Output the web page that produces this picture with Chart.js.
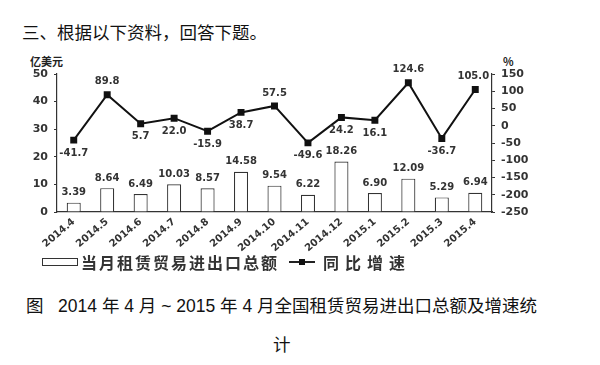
<!DOCTYPE html>
<html>
<head>
<meta charset="utf-8">
<script src="https://cdn.jsdelivr.net/npm/chart.js@4.4.1/dist/chart.umd.min.js"></script>
<style>
  body { margin: 0; background: #fff; width: 600px; height: 365px; position: relative; overflow: hidden; font-family: "Noto Sans CJK SC", sans-serif; }
  .heading { position: absolute; left: 22px; top: 19px; font-size: 17.5px; color: #111; }
  .unit { position: absolute; font: bold 11px "Noto Sans CJK SC", sans-serif; color: #222; }
  #wrap { position: absolute; left: 0; top: 50px; width: 600px; height: 202px; }
  .legend { position: absolute; left: 42px; top: 250px; font: bold 16px "Noto Sans CJK SC", sans-serif; color: #333; display: flex; align-items: center; }
  .t1 { letter-spacing: 2px; }
  .t2 { letter-spacing: 6px; }
  .box { display: inline-block; width: 34px; height: 6px; border: 1px solid #333; margin-right: 3px; }
  .ln { display: inline-block; width: 26px; height: 2px; background: #222; position: relative; margin: 0 8px 0 10px; }
  .ln::after { content: ""; position: absolute; left: 10px; top: -2px; width: 6px; height: 6px; background: #111; }
  .caption { position: absolute; left: 26px; top: 292px; font-size: 17.5px; color: #111; font-family: "Liberation Sans", "Noto Sans CJK SC", sans-serif; }
  .caption2 { position: absolute; left: 273px; top: 331px; font-size: 17.5px; color: #111; }
</style>
</head>
<body>
<div class="heading">三、根据以下资料，回答下题。</div>
<div class="unit" style="left:30px; top:53px;">亿美元</div>
<div class="unit" style="left:503px; top:53px;">%</div>
<div id="wrap"><canvas id="chart"></canvas></div>
<div class="legend"><span class="box"></span><span class="t1">当月租赁贸易进出口总额</span><span class="ln"></span><span class="t2">同比增速</span></div>
<div class="caption">图&nbsp;&nbsp;&nbsp;2014 年 4 月 ~ 2015 年 4 月全国租赁贸易进出口总额及增速统</div>
<div class="caption2">计</div>
<script>
const months = ['2014.4', '2014.5', '2014.6', '2014.7', '2014.8', '2014.9', '2014.10', '2014.11', '2014.12', '2015.1', '2015.2', '2015.3', '2015.4'];
const totals = [3.39, 8.64, 6.49, 10.03, 8.57, 14.58, 9.54, 6.22, 18.26, 6.90, 12.09, 5.29, 6.94];
const growth = [-41.7, 89.8, 5.7, 22.0, -15.9, 38.7, 57.5, -49.6, 24.2, 16.1, 124.6, -36.7, 105.0];
// where each growth label sits relative to its point
const growthLabelPos = ['below', 'above', 'below', 'below', 'below', 'below', 'above', 'below', 'below', 'below', 'above', 'below', 'above'];

const labelFont = 'bold 10px "DejaVu Sans", sans-serif';

const valueLabels = {
  id: 'valueLabels',
  afterDatasetsDraw(chart) {
    const ctx = chart.ctx;
    ctx.save();
    ctx.font = labelFont;
    ctx.fillStyle = '#333';
    ctx.textAlign = 'center';
    chart.getDatasetMeta(1).data.forEach((bar, i) => {
      ctx.textBaseline = 'bottom';
      ctx.fillText(totals[i].toFixed(2), bar.x, bar.y - 5);
    });
    chart.getDatasetMeta(0).data.forEach((pt, i) => {
      const txt = growth[i].toFixed(1);
      if (growthLabelPos[i] === 'above') {
        ctx.textBaseline = 'bottom';
        ctx.fillText(txt, pt.x - (i === 12 ? 2 : 0), pt.y - 8);
      } else {
        ctx.textBaseline = 'top';
        ctx.fillText(txt, pt.x, pt.y + 8);
      }
    });
    ctx.restore();
  }
};

new Chart(document.getElementById('chart'), {
  data: {
    labels: months,
    datasets: [
      {
        type: 'line',
        label: '同比增速',
        data: growth,
        yAxisID: 'y1',
        borderColor: '#111',
        borderWidth: 2,
        pointStyle: 'rect',
        pointRadius: 3.5,
        pointBackgroundColor: '#111',
        pointBorderColor: '#111',
        tension: 0
      },
      {
        type: 'bar',
        label: '当月租赁贸易进出口总额',
        data: totals,
        yAxisID: 'y',
        backgroundColor: '#fff',
        borderColor: '#333',
        borderWidth: 1.2,
        categoryPercentage: 1,
        barPercentage: 0.42
      }
    ]
  },
  options: {
    responsive: true,
    maintainAspectRatio: false,
    animation: false,
    layout: { padding: { top: 24, left: 0, right: 0, bottom: 0 } },
    plugins: { legend: { display: false }, tooltip: { enabled: false } },
    scales: {
      x: {
        grid: { display: false, drawTicks: false },
        border: { color: '#333', width: 1.2 },
        ticks: { color: '#333', font: { family: 'DejaVu Sans', size: 10, weight: 'bold' }, minRotation: 40, maxRotation: 40, padding: 4, autoSkip: false },
        afterFit(s) { s.height = 40; }
      },
      y: {
        position: 'left',
        min: 0, max: 50,
        ticks: { stepSize: 10, color: '#333', font: { family: 'DejaVu Sans', size: 11, weight: 'bold' }, padding: 6 },
        grid: { drawOnChartArea: false, tickLength: 3, color: '#333' },
        border: { color: '#333', width: 1.2 },
        afterFit(s) { s.width = 57; }
      },
      y1: {
        position: 'right',
        min: -250, max: 150,
        ticks: { stepSize: 50, color: '#333', font: { family: 'DejaVu Sans', size: 11, weight: 'bold' }, padding: 6 },
        grid: { drawOnChartArea: false, tickLength: 3, color: '#333' },
        border: { color: '#333', width: 1.2 },
        afterFit(s) { s.width = 108; }
      }
    }
  },
  plugins: [valueLabels]
});
</script>
</body>
</html>
